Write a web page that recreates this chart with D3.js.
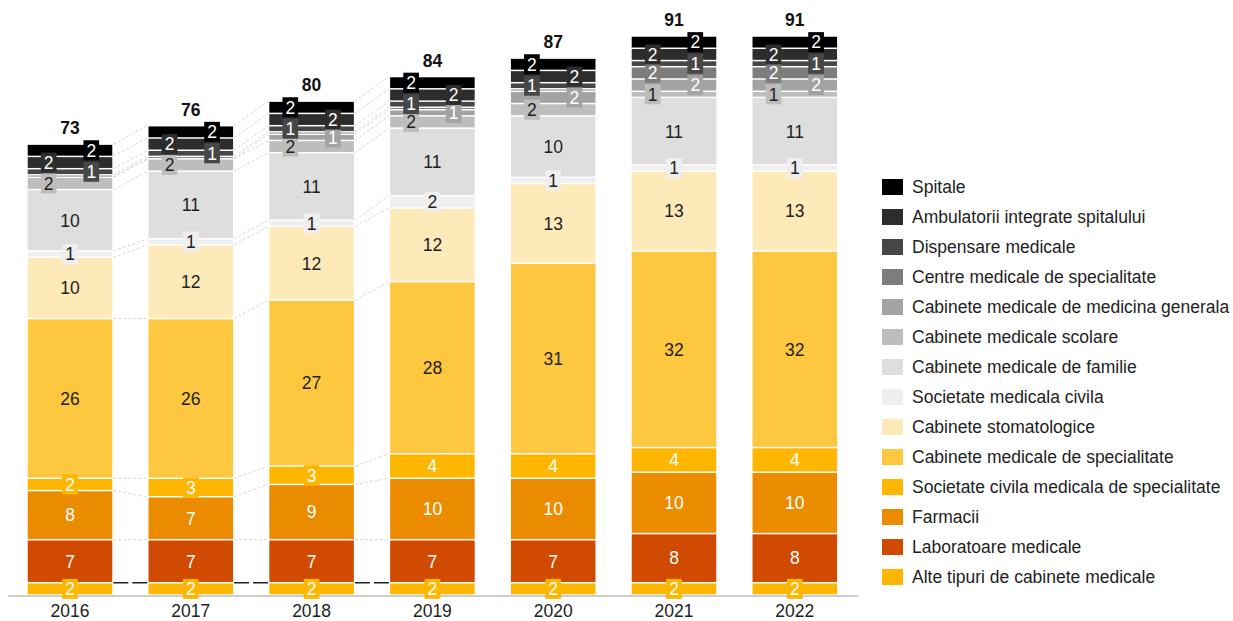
<!DOCTYPE html>
<html>
<head>
<meta charset="utf-8">
<script src="https://cdn.jsdelivr.net/npm/d3@7"></script>
<style>
  html, body { margin: 0; padding: 0; background: #fff; }
  svg { display: block; font-family: "Liberation Sans", Arial, sans-serif; }
</style>
</head>
<body>
<div id="chart"></div>
<script>
const years = ["2016", "2017", "2018", "2019", "2020", "2021", "2022"];

// serii de jos in sus
const alteTipuri        = [2, 2, 2, 2, 2, 2, 2];
const laboratoare       = [7, 7, 7, 7, 7, 8, 8];
const farmacii          = [8, 7, 9, 10, 10, 10, 10];
const socCivilaSpec     = [2, 3, 3, 4, 4, 4, 4];
const cabSpecialitate   = [26, 26, 27, 28, 31, 32, 32];
const stomatologice     = [10, 12, 12, 12, 13, 13, 13];
const socMedicalaCivila = [1, 1, 1, 2, 1, 1, 1];
const familie           = [10, 11, 11, 11, 10, 11, 11];
const scolare           = [2, 2, 2, 2, 2, 1, 1];
const medicinaGenerala  = [0, 0, 1, 1, 2, 2, 2];
const centreSpec        = [0.4, 0.4, 0.4, 0.4, 0.4, 2, 2];
const dispensare        = [1, 1, 1, 1, 1, 1, 1];
const ambulatorii       = [2, 2, 2, 2, 2, 2, 2];
const spitale           = [2, 2, 2, 2, 2, 2, 2];

const seriesNames = [
  "Alte tipuri de cabinete medicale",
  "Laboratoare medicale",
  "Farmacii",
  "Societate civila medicala de specialitate",
  "Cabinete medicale de specialitate",
  "Cabinete stomatologice",
  "Societate medicala civila",
  "Cabinete medicale de familie",
  "Cabinete medicale scolare",
  "Cabinete medicale de medicina generala",
  "Centre medicale de specialitate",
  "Dispensare medicale",
  "Ambulatorii integrate spitalului",
  "Spitale"
];
const seriesValues = [
  alteTipuri, laboratoare, farmacii, socCivilaSpec, cabSpecialitate,
  stomatologice, socMedicalaCivila, familie, scolare, medicinaGenerala,
  centreSpec, dispensare, ambulatorii, spitale
];
const seriesColors = [
  "#ffb600", "#d04a02", "#eb8c00", "#ffb600", "#fdc740",
  "#fee9b9", "#efefef", "#dedede", "#bdbdbd", "#a3a3a3",
  "#7d7d7d", "#474747", "#2d2d2d", "#000000"
];
const labelColors = [
  "#fff", "#fff", "#fff", "#fff", "#222",
  "#222", "#222", "#222", "#222", "#fff",
  "#fff", "#fff", "#fff", "#fff"
];

// tabel pentru d3.stack
const table = years.map((yr, i) => {
  const row = { year: yr };
  seriesNames.forEach((s, k) => { row[s] = seriesValues[k][i]; });
  return row;
});

const W = 1233, H = 621;
const FONT = "17.5px";
const svg = d3.select("#chart").append("svg")
  .attr("width", W).attr("height", H);

const x = d3.scaleBand()
  .domain(years)
  .range([9.6, 855.2])
  .paddingInner(0.3)
  .paddingOuter(0.15);

const y = d3.scaleLinear()
  .domain([0, 91])
  .range([595, 36]);

const stacked = d3.stack().keys(seriesNames)(table);
const bw = x.bandwidth();

// linii de legatura intre primele bare
const gaps = [0, 1, 2];
stacked.forEach((layer, k) => {
  svg.append("g").selectAll("line")
    .data(gaps)
    .enter().append("line")
    .attr("x1", i => x(years[i]) + bw + 1)
    .attr("x2", i => x(years[i + 1]) - 1)
    .attr("y1", i => y(layer[i][1]))
    .attr("y2", i => y(layer[i + 1][1]))
    .attr("stroke", k === 0 ? "#222" : "#c9cdd8")
    .attr("stroke-width", k === 0 ? 1.6 : 0.8)
    .attr("stroke-dasharray", k === 0 ? "15,4" : "3,2");
});

// segmente
stacked.forEach((layer, k) => {
  svg.append("g").selectAll("rect")
    .data(layer)
    .enter().append("rect")
    .attr("x", d => x(d.data.year))
    .attr("width", bw)
    .attr("y", d => y(d[1]) + 0.75)
    .attr("height", d => Math.max(0, y(d[0]) - y(d[1]) - 1.5))
    .attr("fill", seriesColors[k]);
});

// axa X
svg.append("line")
  .attr("x1", 8).attr("x2", 858)
  .attr("y1", 596).attr("y2", 596)
  .attr("stroke", "#9a9a9a").attr("stroke-width", 1);

svg.append("g").selectAll("text")
  .data(years)
  .enter().append("text")
  .attr("x", d => x(d) + bw / 2)
  .attr("y", 616.5)
  .attr("text-anchor", "middle")
  .attr("font-size", FONT)
  .attr("fill", "#222")
  .text(d => d);

// etichete segmente
const labels = [];
years.forEach((yr, i) => {
  let side = 0;
  stacked.forEach((layer, k) => {
    const d = layer[i];
    const v = d[1] - d[0];
    if (v < 0.5) return;
    let cx = x(yr) + bw / 2;
    if (k >= 8) {
      cx = side % 2 === 0 ? x(yr) + 21 : x(yr) + bw - 21;
      side++;
    }
    labels.push({ cx, cy: y((d[0] + d[1]) / 2), text: String(Math.round(v)), k });
  });
});

const lg = svg.append("g").selectAll("g")
  .data(labels)
  .enter().append("g")
  .attr("transform", d => `translate(${d.cx},${d.cy})`);

lg.append("rect")
  .attr("x", d => -(d.text.length * 9.7 + 6) / 2)
  .attr("width", d => d.text.length * 9.7 + 6)
  .attr("y", -10)
  .attr("height", 20)
  .attr("fill", d => seriesColors[d.k]);

lg.append("text")
  .attr("text-anchor", "middle")
  .attr("dy", "0.36em")
  .attr("font-size", FONT)
  .attr("fill", d => labelColors[d.k])
  .text(d => d.text);

// totaluri
const topLayer = stacked[stacked.length - 1];
svg.append("g").selectAll("text")
  .data(topLayer)
  .enter().append("text")
  .attr("x", d => x(d.data.year) + bw / 2)
  .attr("y", d => y(d[1]) - 10)
  .attr("text-anchor", "middle")
  .attr("font-size", FONT)
  .attr("font-weight", "bold")
  .attr("fill", "#111")
  .text(d => Math.round(d[1]));

// legenda (de sus in jos)
const legendOrder = d3.range(seriesNames.length).reverse();
const leg = svg.append("g").selectAll("g")
  .data(legendOrder)
  .enter().append("g")
  .attr("transform", (k, j) => `translate(882,${187 + j * 30})`);

leg.append("rect")
  .attr("x", 0).attr("y", -8)
  .attr("width", 21).attr("height", 16)
  .attr("fill", k => seriesColors[k]);

leg.append("text")
  .attr("x", 30)
  .attr("dy", "0.36em")
  .attr("font-size", FONT)
  .attr("fill", "#222")
  .text(k => seriesNames[k]);
</script>
</body>
</html>
